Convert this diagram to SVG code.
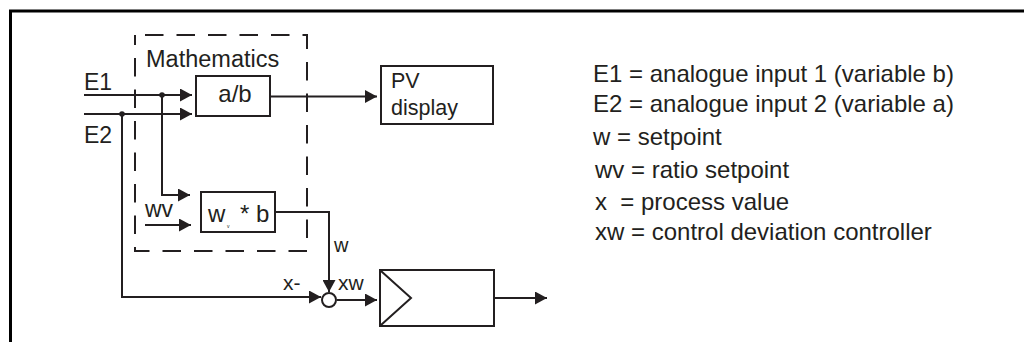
<svg xmlns="http://www.w3.org/2000/svg" width="1024" height="342" viewBox="0 0 1024 342">
<style>
.ln{fill:none;stroke:#231f20;stroke-width:2}
.bx{fill:#fff;stroke:#231f20;stroke-width:2}
.t{font-family:"Liberation Sans",Arial,sans-serif;fill:#231f20;font-size:23px}
.lg{font-family:"Liberation Sans",Arial,sans-serif;fill:#231f20;font-size:24px}
.ar{marker-end:url(#ah)}
</style>
<defs>
<marker id="ah" markerUnits="userSpaceOnUse" markerWidth="12" markerHeight="13" refX="12" refY="6.5" orient="auto">
<path d="M0,0 L12,6.5 L0,13 Z" fill="#231f20"/>
</marker>
</defs>
<rect width="1024" height="342" fill="#fff"/>
<g id="frame">
<path d="M9,11 H1024 M10.5,9.5 V342" fill="none" stroke="#000" stroke-width="3"/>
</g>
<g id="mathematics">
<path d="M135,35 H307 V251 H135 Z" fill="none" stroke="#231f20" stroke-width="2" stroke-dasharray="18.5 13" stroke-dashoffset="21.5"/>
<text class="t" x="146" y="67" style="font-size:23.5px">Mathematics</text>
</g>
<g id="connectors">
<path class="ln ar" d="M84,95 H192"/>
<path class="ln ar" d="M84,114 H192"/>
<path class="ln ar" d="M162,95 V195 H190"/>
<path class="ln ar" d="M122,114 V297 H321"/>
<path class="ln ar" d="M145,225 H191"/>
<path class="ln ar" d="M270,96.5 H377"/>
<path class="ln ar" d="M275,212 H329 V292"/>
<path class="ln ar" d="M337,300 H377"/>
<path class="ln ar" d="M494,298 H547"/>
<circle cx="162" cy="95" r="2.8" fill="#231f20"/>
<circle cx="122" cy="114" r="2.8" fill="#231f20"/>
<text class="t" x="84" y="90">E1</text>
<text class="t" x="84" y="143">E2</text>
<text class="t" x="145" y="217">wv</text>
<text class="t" x="334" y="252" style="font-size:20px">w</text>
<text class="t" x="283" y="290" style="font-size:21px">x-</text>
<text class="t" x="338" y="290" style="font-size:21px">xw</text>
</g>
<g id="divide">
<rect class="bx" x="196" y="76" width="74" height="40"/>
<text class="t" x="235" y="102" text-anchor="middle" style="font-size:24px">a/b</text>
</g>
<g id="pv-display">
<rect class="bx" x="381" y="66" width="112" height="58"/>
<text class="t" x="391" y="88" style="font-size:21.5px">PV</text>
<text class="t" x="391" y="115" style="font-size:21.5px">display</text>
</g>
<g id="multiply">
<rect class="bx" x="201" y="192" width="74" height="40"/>
<text class="t" x="208" y="222" style="font-size:24px">w</text>
<text class="t" x="227" y="228" style="font-size:5px">v</text>
<text class="t" x="240" y="222" style="font-size:24px">* b</text>
</g>
<g id="summing-point">
<circle class="bx" cx="329" cy="300" r="7"/>
</g>
<g id="controller">
<rect class="bx" x="380" y="270" width="114" height="56"/>
<path class="ln" d="M381,271 L411,298 L381,325"/>
</g>
<g id="legend">
<text class="lg" x="593" y="82">E1 = analogue input 1 (variable b)</text>
<text class="lg" x="593" y="112">E2 = analogue input 2 (variable a)</text>
<text class="lg" x="593" y="145">w = setpoint</text>
<text class="lg" x="595" y="178">wv = ratio setpoint</text>
<text class="lg" x="595" y="210" xml:space="preserve">x  = process value</text>
<text class="lg" x="595" y="240">xw = control deviation controller</text>
</g>
</svg>
